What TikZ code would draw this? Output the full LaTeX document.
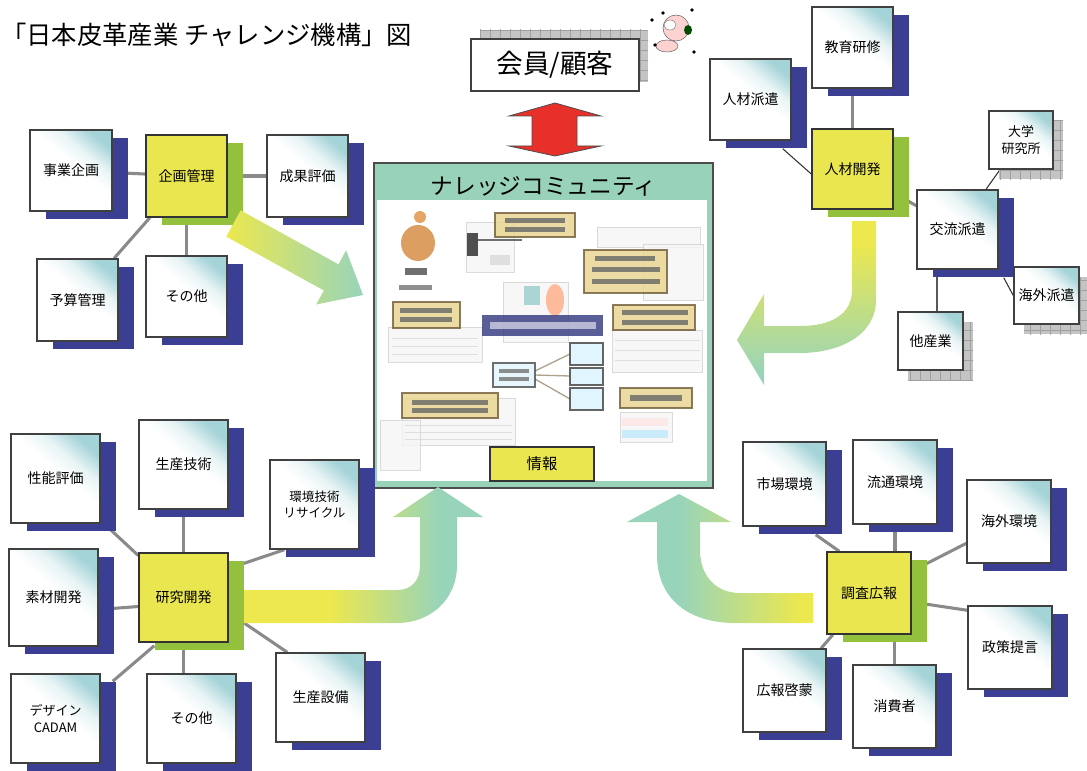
\documentclass[tikz,border=0pt]{standalone}
\usepackage{fontspec}
\setmainfont{Noto Sans CJK JP}
\usetikzlibrary{shadows,backgrounds,patterns.meta}

\definecolor{navyc}{RGB}{58,63,147}
\definecolor{greenc}{RGB}{147,193,62}
\definecolor{yelc}{RGB}{234,230,80}
\definecolor{tealb}{RGB}{164,211,216}
\definecolor{ckc}{RGB}{196,196,196}
\definecolor{ckl}{RGB}{160,160,160}
\definecolor{ayel}{RGB}{236,232,78}
\definecolor{ateal}{RGB}{152,212,186}
\definecolor{kcteal}{RGB}{152,211,185}
\definecolor{connc}{RGB}{138,138,138}
\definecolor{redc}{RGB}{232,48,42}
\definecolor{tanc}{RGB}{232,212,140}
\definecolor{tanl}{RGB}{110,90,55}

% gradient fills of the broad arrows
\pgfdeclarehorizontalshading{arrowbl}{100bp}{color(0bp)=(ayel); color(43bp)=(ayel); color(66bp)=(ateal); color(100bp)=(ateal)}
\pgfdeclarehorizontalshading{arrowbr}{100bp}{color(0bp)=(ateal); color(39bp)=(ateal); color(72bp)=(ayel); color(100bp)=(ayel)}
\pgfdeclareverticalshading{arrowtr}{100bp}{color(0bp)=(ateal); color(28bp)=(ateal); color(68bp)=(ayel); color(100bp)=(ayel)}
% pale label fill, teal towards the upper right
\pgfdeclareverticalshading{labelfill}{100bp}{color(0bp)=(white); color(54bp)=(white); color(64bp)=(white!75!tealb); color(76bp)=(tealb); color(100bp)=(tealb)}

% node placed by its corners (pixel grid, y downwards)
\newcommand\boxat[7]{\node[#6, minimum width={(#4-#2)*0.75pt}, minimum height={(#5-#3)*0.75pt}] (#1) at ({(#2+#4)/2},{(#3+#5)/2}) {#7};}

\tikzset{
  basebox/.style={inner sep=0pt, align=center, font=\fontsize{10.5}{13}\selectfont},
  lbl/.style={basebox, draw=black!75, line width=1.1pt, shade, shading=labelfill, shading angle=-40},
  navysh/.style={general shadow={fill=navyc, shadow xshift=12pt, shadow yshift=-6pt}},
  ckpat/.style={general shadow={fill=ckc, shadow xshift=#1, shadow yshift=-#1},
    general shadow={pattern={Lines[distance=7.5pt, line width=0.7pt]}, pattern color=ckl, shadow xshift=#1, shadow yshift=-#1},
    general shadow={pattern={Lines[angle=90, distance=7.5pt, line width=0.7pt]}, pattern color=ckl, shadow xshift=#1, shadow yshift=-#1}},
  ybox/.style={basebox, fill=yelc, draw=black!80, line width=1.1pt,
    general shadow={fill=greenc, shadow xshift=12pt, shadow yshift=-6pt}},
  conn/.style={draw=connc, line width=2.3pt},
  thinconn/.style={draw=black!80, line width=0.8pt},
  bigarrow/.style={draw=none},
}

\begin{document}
\begin{tikzpicture}[x=0.75pt, y=-0.75pt]
\useasboundingbox (0,0) rectangle (1087,770);

% ---------- title ----------
\node[anchor=west, inner sep=0pt, font=\fontsize{19}{22}\selectfont] (title) at (1,35) {「日本皮革産業 チャレンジ機構」図};

% ---------- members / customers ----------
\boxat{kaiin}{471}{39}{639}{91}{basebox, fill=white, draw=black!75, line width=0.8pt, font=\fontsize{20}{24}\selectfont,
  general shadow={fill=ckc, shadow xshift=6.75pt, shadow yshift=6.75pt},
  general shadow={pattern={Lines[distance=7.5pt, line width=0.7pt]}, pattern color=ckl, shadow xshift=6.75pt, shadow yshift=6.75pt},
  general shadow={pattern={Lines[angle=90, distance=7.5pt, line width=0.7pt]}, pattern color=ckl, shadow xshift=6.75pt, shadow yshift=6.75pt}}{会員/顧客}

% small mascot
\fill[pink!70!white, draw=black!60, line width=0.4pt] (667,46) ellipse [x radius=11, y radius=6];
\fill[pink!70!white, draw=black!60, line width=0.4pt] (676,28) circle [radius=13];
\fill[white, draw=black!60, line width=0.3pt] (670,25) ellipse [x radius=6, y radius=5];
\fill[green!30!black] (688,30) ellipse [x radius=4, y radius=5];
\foreach \p in {(652,20),(663,13),(692,10),(655,45),(694,52)} \fill[black] \p circle [radius=1.8];

% red double arrow
\filldraw[fill=redc, draw=black!70, line width=0.6pt]
  (509,116) -- (555,103) -- (601,116) -- (577,116) -- (577,146) -- (601,146)
  -- (555,156) -- (509,146) -- (532,146) -- (532,116) -- cycle;

% ---------- knowledge community ----------
\boxat{kc}{374}{163}{713}{488}{basebox, fill=kcteal, draw=black!70, line width=0.9pt}{}
\node[font=\fontsize{17}{20}\selectfont, inner sep=0pt] (kct) at (543.5,186) {ナレッジコミュニティ};
\boxat{kcin}{377}{200}{707}{481}{basebox, fill=white}{}

\begin{scope}
\clip (kcin.north west) rectangle (kcin.south east);
\begin{scope}[opacity=0.8]
  % pale sheets behind the collage
  \foreach \a/\b/\c/\d in {597/227/700/247, 643/244/703/300, 388/327/482/362, 402/398/515/445,
      503/282/568/342, 612/330/702/372, 466/222/514/272, 620/412/672/442, 380/420/420/470}
    \filldraw[fill=gray!7, draw=gray!35, line width=0.4pt] (\a,\b) rectangle (\c,\d);
  \foreach \yy in {338,346,354} \draw[gray!30, line width=0.6pt] (392,\yy) -- (478,\yy);
  \foreach \yy in {425,432,439} \draw[gray!30, line width=0.6pt] (405,\yy) -- (512,\yy);
  \foreach \yy in {340,350,360} \draw[gray!30, line width=0.6pt] (615,\yy) -- (700,\yy);
  \fill[pink!40] (622,418) rectangle (668,426);
  \fill[cyan!25] (622,430) rectangle (668,438);
  % figure at top left
  \fill[brown!70!orange, opacity=0.75] (418,243) ellipse [x radius=17, y radius=18];
  \fill[brown!60!orange, opacity=0.7] (420,217) circle [radius=6];
  \fill[black!70] (405,268) rectangle (427,275);
  \fill[black!55] (399,285) rectangle (432,290);
  % device with leads
  \fill[black!85] (467,233) rectangle (478,256);
  \draw[black!70, line width=1pt] (478,240) -- (522,240);
  \fill[gray!30] (490,255) rectangle (510,265);
  % people in the middle
  \fill[teal!40] (524,286) rectangle (540,305);
  \fill[orange!30!pink] (555,300) ellipse [x radius=9, y radius=16];
  % label boxes
  \foreach \a/\b/\c/\d in {495/213/575/237, 393/302/460/328, 584/250/667/293, 613/305/695/330,
      402/393/498/418, 620/388/692/408}
    \filldraw[fill=tanc, draw=tanl, line width=1.3pt] (\a,\b) rectangle (\c,\d);
  \foreach \a/\b/\c/\d in {505/218/565/223, 505/227/565/232, 400/308/452/313, 400/317/452/322,
      595/256/655/261, 592/267/660/272, 592/279/660/284, 622/310/688/315, 622/320/688/325,
      412/400/488/405, 412/408/488/413, 630/395/682/401}
    \fill[black!60] (\a,\b) rectangle (\c,\d);
  % central banner
  \fill[navyc!85!black] (482,315) rectangle (603,336);
  \fill[white!75!navyc] (490,322) rectangle (596,329);
  % linked boxes
  \draw[tanl!70, line width=1pt] (535,371) -- (570,354) (535,375) -- (570,376) (535,379) -- (570,399);
  \filldraw[fill=cyan!12, draw=black!70, line width=1pt] (493,363) rectangle (535,387);
  \fill[black!55] (499,369) rectangle (529,373);
  \fill[black!55] (499,377) rectangle (529,381);
  \foreach \b/\d in {343/365, 368/385, 388/410}
    \filldraw[fill=cyan!15, draw=black!75, line width=1.5pt] (570,\b) rectangle (603,\d);
\end{scope}
\end{scope}

\boxat{joho}{490}{447}{594}{481}{basebox, fill=yelc, draw=black!80, line width=0.8pt, font=\fontsize{11.5}{14}\selectfont}{情報}

% ---------- planning ----------
\boxat{jg}{30}{130}{112}{211}{lbl, navysh}{事業企画}
\boxat{kk}{146}{135}{227}{217}{ybox}{企画管理}
\boxat{sk}{267}{135}{348}{217}{lbl, navysh}{成果評価}
\boxat{yk}{37}{259}{118}{341}{lbl, navysh}{予算管理}
\boxat{so1}{146}{256}{227}{337}{lbl, navysh}{その他}

% ---------- human resources ----------
\boxat{ky}{812}{7}{893}{88}{lbl, navysh}{教育研修}
\boxat{jh}{710}{59}{791}{140}{lbl, navysh}{人材派遣}
\boxat{jk}{812}{129}{893}{209}{ybox}{人材開発}
\boxat{dg}{989}{111}{1053}{169}{lbl, ckpat=7.5pt, font=\fontsize{9.75}{12.75}\selectfont}{大学\\研究所}
\boxat{kr}{917}{190}{998}{269}{lbl, navysh}{交流派遣}
\boxat{kh}{1014}{267}{1079}{324}{lbl, ckpat=7.5pt}{海外派遣}
\boxat{tg}{898}{312}{963}{370}{lbl, ckpat=7.5pt}{他産業}

% ---------- research and development ----------
\boxat{sn}{11}{434}{100}{523}{lbl, navysh}{性能評価}
\boxat{st}{139}{420}{228}{509}{lbl, navysh}{生産技術}
\boxat{kg}{270}{460}{359}{549}{lbl, navysh, font=\fontsize{9.4}{12}\selectfont}{環境技術\\リサイクル}
\boxat{sz}{9}{549}{98}{646}{lbl, navysh}{素材開発}
\boxat{kk2}{139}{553}{228}{642}{ybox}{研究開発}
\boxat{ds}{11}{674}{100}{763}{lbl, navysh, font=\fontsize{9.75}{12.5}\selectfont}{デザイン\\CADAM}
\boxat{so2}{147}{674}{236}{763}{lbl, navysh}{その他}
\boxat{ss}{276}{653}{365}{742}{lbl, navysh}{生産設備}

% ---------- research and publicity ----------
\boxat{sj}{743}{442}{826}{526}{lbl, navysh}{市場環境}
\boxat{rt}{853}{440}{937}{524}{lbl, navysh}{流通環境}
\boxat{kg2}{967}{480}{1051}{563}{lbl, navysh}{海外環境}
\boxat{ck}{827}{552}{911}{634}{ybox}{調査広報}
\boxat{sk2}{968}{606}{1052}{689}{lbl, navysh}{政策提言}
\boxat{kh3}{743}{649}{826}{732}{lbl, navysh}{広報啓蒙}
\boxat{sh}{853}{665}{936}{748}{lbl, navysh}{消費者}

% ---------- connectors ----------
\begin{scope}[on background layer]
  \draw[conn] (jg) -- (kk);
  \draw[conn] (kk) -- (sk);
  \draw[conn] (kk) -- (so1);
  \draw[conn] (kk) -- (yk);

  \draw[conn] (ky) -- (jk);
  \draw[thinconn] ([shift={(-9,8)}]jh.south east) -- ([shift={(0,5)}]jk.west);
  \draw[conn] (jk) -- (kr);
  \draw[thinconn] (dg) -- (kr);
  \draw[thinconn] ([shift={(5,8)}]kr.south east) -- (kh.west);
  \draw[draw=black!65, line width=1.5pt] ([shift={(-20.5,0)}]kr.south) -- ([shift={(6.5,0)}]tg.north);

  \draw[conn] (sn) -- (kk2);
  \draw[conn] (st) -- (kk2);
  \draw[conn] ([shift={(0,-29)}]kk2.east) -- ([shift={(15,0)}]kg.south west);
  \draw[conn] ([shift={(0,12)}]sz.east) -- ([shift={(0,9)}]kk2.west);
  \draw[conn] ([shift={(12,8)}]ds.north east) -- ([shift={(16,3)}]kk2.south west);
  \draw[conn] (kk2.south) -- (kk2.south |- so2.north);
  \draw[conn] ([shift={(0,15)}]kk2.east) -- ([shift={(12,0)}]ss.north west);

  \draw[conn] ([shift={(-11,8)}]sj.south east) -- ([shift={(13,0)}]ck.north west);
  \draw[conn] (rt.south) -- (rt.south |- ck.north);
  \draw[conn] (ck) -- (kg2);
  \draw[conn] ([shift={(0,9)}]ck.east) -- ([shift={(0,5)}]sk2.north west);
  \draw[conn] (ck) -- (kh3);
  \draw[conn] (sh.north |- ck.south) -- (sh.north);
\end{scope}

% ---------- broad arrows into the community ----------
% from planning
\shade[bigarrow, left color=ayel, right color=ateal]
  (240.7,210.4) -- (338.4,264.3) -- (346.1,250.3) -- (363,295) -- (316.1,304.5)
  -- (323.9,290.5) -- (226.2,236.6) -- cycle;
% from human resources
\shade[bigarrow, shading=arrowtr]
  (852,221) -- (876,221) -- (876,300) .. controls (876,335) and (840,353) .. (800,353)
  -- (764,353) -- (764,385) -- (737,340) -- (764,294) -- (764,326) -- (800,326)
  .. controls (830,326) and (852,315) .. (852,290) -- cycle;
% from research and development
\shade[bigarrow, shading=arrowbl]
  (244,590) -- (397,590) .. controls (412,590) and (420,580) .. (420,565) -- (420,517)
  -- (393,517) -- (438,487) -- (483,517) -- (457,517) -- (457,565)
  .. controls (457,600) and (430,623) .. (397,623) -- (244,623) -- cycle;
% from research and publicity
\shade[bigarrow, shading=arrowbr]
  (813,593) -- (740,593) .. controls (715,593) and (700,575) .. (700,550) -- (700,522)
  -- (731,522) -- (679,494) -- (627,522) -- (657,522) -- (657,555)
  .. controls (657,600) and (690,623) .. (735,623) -- (813,623) -- cycle;

\end{tikzpicture}
\end{document}
